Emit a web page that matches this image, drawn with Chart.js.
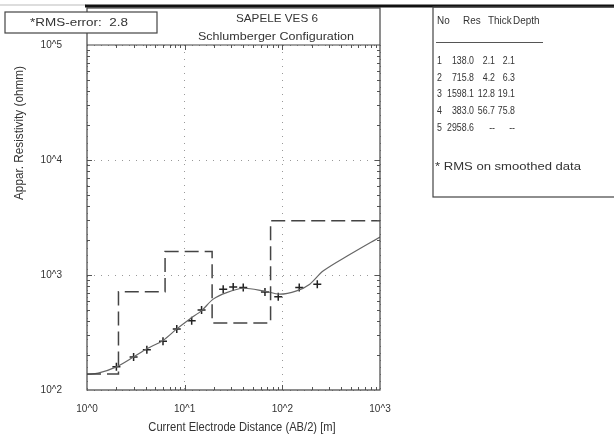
<!DOCTYPE html>
<html>
<head>
<meta charset="utf-8">
<script src="https://cdn.jsdelivr.net/npm/chart.js@4"></script>
<style>
  body { margin: 0; background: #fff; }
  canvas { display: block; }
</style>
</head>
<body>
<canvas id="ves" width="614" height="443"></canvas>
<script>
// layer model (table + dashed step line)
const layerRes = [138.0, 715.8, 1598.1, 383.0, 2958.6];
const layerThick = [2.1, 4.2, 12.8, 56.7];
const layerDepth = [2.1, 6.3, 19.1, 75.8];

// field data (AB/2 in m, apparent resistivity in ohmm)
const obsAB = [2.0, 3.0, 4.1, 6.0, 8.3, 11.8, 14.9, 24.8, 31.4, 39.8, 66.4, 90.8, 149, 228];
const obsRho = [159, 194, 224, 266, 340, 401, 497, 753, 788, 777, 713, 646, 777, 832];

// calculated curve
const curveAB = [1, 1.3, 2.0, 3.0, 4.1, 6.0, 8.3, 11.3, 14.9, 19.6, 26.9, 39.8, 63.8, 94.4, 140, 191, 261, 490, 1000];
const curveRho = [137, 140, 159, 194, 228, 270, 340, 415, 490, 617, 703, 767, 728, 681, 728, 832, 1082, 1506, 2140];

const xTickLabels = ['10^0', '10^1', '10^2', '10^3'];
const yTickLabels = ['10^2', '10^3', '10^4', '10^5'];

// 组装数据
const modelPoints = [1, ...layerDepth, 1000].map((x, i) => ({ x: x, y: layerRes[Math.min(i, layerRes.length - 1)] }));
const obsPoints = obsAB.map((x, i) => ({ x: x, y: obsRho[i] }));
const curvePoints = curveAB.map((x, i) => ({ x: x, y: curveRho[i] }));

function isDecade(v) {
    const e = Math.log10(v);
    return Math.abs(e - Math.round(e)) < 1e-9;
}

// 文字（可横向缩放）
function drawText(ctx, text, x, y, font, align, sx) {
    ctx.save();
    ctx.font = font;
    ctx.textAlign = align;
    ctx.textBaseline = 'middle';
    ctx.translate(x, y);
    ctx.scale(sx, 1);
    ctx.fillText(text, 0, 0);
    ctx.restore();
}

function fitText(ctx, text, x, y, w, font) {
    ctx.font = font;
    const m = ctx.measureText(text).width;
    drawText(ctx, text, x, y, font, 'left', w / m);
}

const framePlugin = {
    id: 'frame',
    beforeDraw(chart) {
        const ctx = chart.ctx;
        ctx.save();
        ctx.fillStyle = '#fff';
        ctx.fillRect(0, 0, chart.width, chart.height);
        ctx.restore();
    },
    afterDraw(chart) {
        const ctx = chart.ctx;
        const a = chart.chartArea;
        const xs = chart.scales.x;
        const ys = chart.scales.y;
        ctx.save();

        // inner tick marks
        ctx.strokeStyle = '#555';
        ctx.lineWidth = 1;
        ctx.beginPath();
        for (let e = 0; e < 3; e++) {
            for (let m = 1; m < 10; m++) {
                const v = m * Math.pow(10, e);
                if (v <= 1) continue;
                const px = Math.round(xs.getPixelForValue(v)) + 0.5;
                const len = m === 1 ? 5 : 3;
                ctx.moveTo(px, a.bottom); ctx.lineTo(px, a.bottom - len);
                ctx.moveTo(px, a.top); ctx.lineTo(px, a.top + len);
            }
        }
        for (let e = 2; e < 5; e++) {
            for (let m = 1; m < 10; m++) {
                const v = m * Math.pow(10, e);
                if (v <= 100) continue;
                const py = Math.round(ys.getPixelForValue(v)) + 0.5;
                const len = m === 1 ? 5 : 3;
                ctx.moveTo(a.left, py); ctx.lineTo(a.left + len, py);
                ctx.moveTo(a.right, py); ctx.lineTo(a.right - len, py);
            }
        }
        ctx.stroke();

        // plot frame with title box above
        ctx.strokeStyle = '#444';
        ctx.lineWidth = 1.2;
        ctx.strokeRect(a.left, 8, a.right - a.left, a.bottom - 8);
        ctx.beginPath();
        ctx.moveTo(a.left, a.top);
        ctx.lineTo(a.right, a.top);
        ctx.stroke();

        // top border lines
        ctx.strokeStyle = '#bbb';
        ctx.lineWidth = 1;
        ctx.beginPath();
        ctx.moveTo(0, 5); ctx.lineTo(86, 5);
        ctx.stroke();
        ctx.strokeStyle = '#111';
        ctx.lineWidth = 3;
        ctx.beginPath();
        ctx.moveTo(85, 6); ctx.lineTo(614, 6);
        ctx.stroke();

        // table box
        ctx.strokeStyle = '#444';
        ctx.lineWidth = 1.2;
        ctx.strokeRect(433, 7, 190, 190);

        // RMS box
        ctx.fillStyle = '#fff';
        ctx.fillRect(5, 12, 152, 21);
        ctx.strokeRect(5, 12, 152, 21);

        ctx.fillStyle = '#333';
        fitText(ctx, '*RMS-error:  2.8', 30, 23, 98, '11px "Liberation Sans"');
        fitText(ctx, 'SAPELE VES 6', 236, 19, 82, '11px "Liberation Sans"');
        fitText(ctx, 'Schlumberger Configuration', 198, 37, 156, '11px "Liberation Sans"');

        // table
        const tf = '11px "Liberation Sans"';
        const sx = 0.8;
        drawText(ctx, 'No', 437, 21, tf, 'left', 0.9);
        drawText(ctx, 'Res', 463, 21, tf, 'left', 0.9);
        drawText(ctx, 'Thick', 488, 21, tf, 'left', 0.9);
        drawText(ctx, 'Depth', 513, 21, tf, 'left', 0.9);
        ctx.strokeStyle = '#555';
        ctx.lineWidth = 1;
        ctx.beginPath();
        ctx.moveTo(436, 42.5); ctx.lineTo(543, 42.5);
        ctx.stroke();
        layerRes.forEach((r, i) => {
            const y = 61 + i * 16.7;
            drawText(ctx, String(i + 1), 437, y, tf, 'left', sx);
            drawText(ctx, r.toFixed(1), 474, y, tf, 'right', sx);
            drawText(ctx, i < layerThick.length ? layerThick[i].toFixed(1) : '--', 495, y, tf, 'right', sx);
            drawText(ctx, i < layerDepth.length ? layerDepth[i].toFixed(1) : '--', 515, y, tf, 'right', sx);
        });
        fitText(ctx, '* RMS on smoothed data', 435, 167, 146, tf);

        // axis titles
        drawText(ctx, 'Current Electrode Distance (AB/2) [m]', 242, 428, '12px "Liberation Sans"', 'center', 0.93);
        ctx.save();
        ctx.translate(20, 133);
        ctx.rotate(-Math.PI / 2);
        drawText(ctx, 'Appar. Resistivity (ohmm)', 0, 0, '12px "Liberation Sans"', 'center', 0.98);
        ctx.restore();

        ctx.restore();
    }
};

const gridColor = (c) => {
    const v = c.tick && c.tick.value;
    if (!v || !isDecade(v)) return 'rgba(0,0,0,0)';
    return '#999';
};

new Chart(document.getElementById('ves').getContext('2d'), {
    type: 'scatter',
    data: {
        datasets: [{
            data: modelPoints,
            showLine: true,
            stepped: 'before',
            borderColor: '#444',
            borderWidth: 1.5,
            borderDash: [14, 6],
            pointRadius: 0
        }, {
            data: curvePoints,
            showLine: true,
            tension: 0.3,
            borderColor: '#666',
            borderWidth: 1.2,
            pointRadius: 0
        }, {
            data: obsPoints,
            showLine: false,
            pointStyle: 'cross',
            pointRadius: 4,
            borderColor: '#222',
            borderWidth: 1.5
        }]
    },
    options: {
        responsive: false,
        animation: false,
        layout: { padding: { left: 0, top: 45, right: 234, bottom: 0 } },
        plugins: { legend: { display: false }, tooltip: { enabled: false } },
        scales: {
            x: {
                type: 'logarithmic',
                min: 1,
                max: 1000,
                afterFit: (s) => { s.height = 53; },
                border: { display: false, dash: [1, 6] },
                grid: { color: gridColor, drawTicks: false },
                ticks: {
                    autoSkip: false,
                    maxRotation: 0,
                    padding: 13,
                    color: '#333',
                    font: { family: 'Liberation Sans', size: 10 },
                    callback: (v) => isDecade(v) ? xTickLabels[Math.round(Math.log10(v))] : ''
                }
            },
            y: {
                type: 'logarithmic',
                min: 100,
                max: 100000,
                afterFit: (s) => { s.width = 87; },
                border: { display: false, dash: [1, 6] },
                grid: { color: gridColor, drawTicks: false },
                ticks: {
                    autoSkip: false,
                    padding: 25,
                    color: '#333',
                    font: { family: 'Liberation Sans', size: 10 },
                    callback: (v) => isDecade(v) ? yTickLabels[Math.round(Math.log10(v)) - 2] : ''
                }
            }
        }
    },
    plugins: [framePlugin]
});
</script>
</body>
</html>
